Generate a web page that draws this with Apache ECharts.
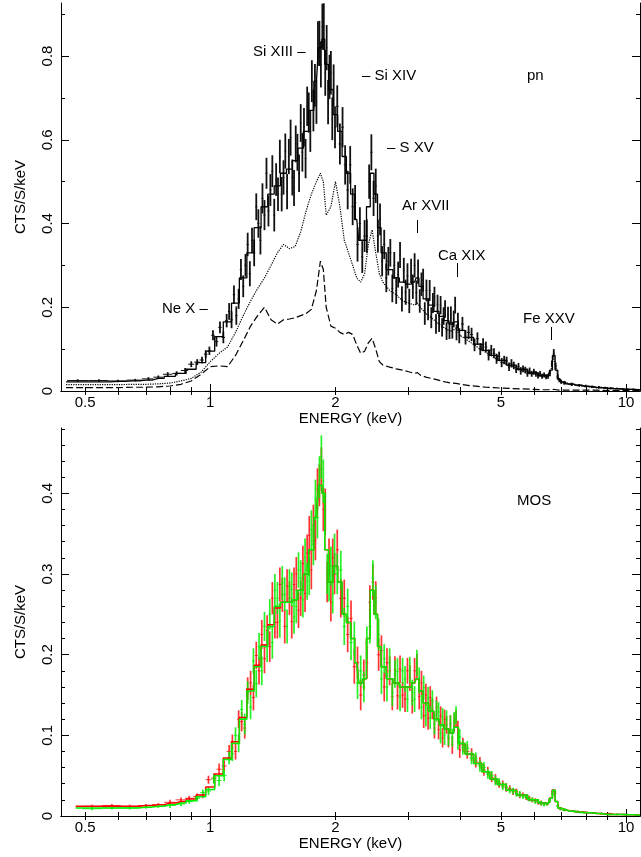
<!DOCTYPE html>
<html>
<head>
<meta charset="utf-8">
<script src="https://cdn.jsdelivr.net/npm/echarts@6/dist/echarts.min.js"></script>
<style>
  html, body { margin: 0; padding: 0; background: #fff; }
  #chart { width: 641px; height: 857px; }
</style>
</head>
<body>
<div id="chart"></div>
<script>
// ---- pn spectrum (top panel) ----
const pnE = [
  0.48, 0.54, 0.6, 0.66, 0.71, 0.75, 0.79, 0.83, 0.87, 0.9, 0.93, 0.955, 0.975, 0.995, 1.015, 1.035, 1.055, 1.075, 1.095,
  1.11, 1.125, 1.14, 1.155, 1.17, 1.185, 1.2, 1.215, 1.23, 1.245, 1.26, 1.275, 1.29, 1.305, 1.32, 1.335, 1.35, 1.365, 1.38, 1.395,
  1.41, 1.425, 1.44, 1.455, 1.47, 1.485, 1.5, 1.515, 1.53, 1.545, 1.56, 1.575, 1.59, 1.605, 1.62, 1.635, 1.65, 1.665, 1.68, 1.695,
  1.71, 1.725, 1.74, 1.755, 1.77, 1.785, 1.8, 1.815, 1.83, 1.845, 1.86, 1.875, 1.89, 1.905, 1.92, 1.935, 1.95, 1.965, 1.98, 1.995,
  2.02, 2.05, 2.08, 2.11, 2.14, 2.17, 2.2, 2.23, 2.26, 2.29, 2.32, 2.35, 2.38, 2.41, 2.44, 2.47, 2.5, 2.53, 2.56, 2.59,
  2.62, 2.65, 2.68, 2.71, 2.74, 2.77, 2.8, 2.83, 2.86, 2.89, 2.92, 2.95, 2.98, 3.01, 3.04, 3.07, 3.1, 3.13, 3.16, 3.19,
  3.22, 3.25, 3.28, 3.31, 3.34, 3.37, 3.4, 3.43, 3.46, 3.49, 3.52, 3.55, 3.58, 3.61, 3.64, 3.67, 3.7, 3.73, 3.76, 3.79,
  3.82, 3.85, 3.88, 3.91, 3.94, 3.97,
  4.04, 4.11, 4.18, 4.25, 4.32, 4.39, 4.46, 4.53, 4.6, 4.67, 4.74, 4.81, 4.88, 4.95, 5.02, 5.09, 5.16, 5.23, 5.3, 5.37,
  5.44, 5.51, 5.58, 5.65, 5.72, 5.79, 5.86, 5.93, 6.0, 6.07, 6.14, 6.21, 6.28, 6.35, 6.42, 6.49, 6.56, 6.63, 6.7, 6.77,
  6.84, 6.91, 6.98,
  7.1, 7.4, 7.7, 8.0, 8.3, 8.6, 8.9, 9.2, 9.5, 9.8, 10.1, 10.4
];
const pnY = [
  0.025, 0.025, 0.024, 0.026, 0.029, 0.033, 0.040, 0.042, 0.049, 0.064, 0.069, 0.074, 0.088, 0.096, 0.133, 0.118, 0.152, 0.128, 0.168,
  0.19, 0.17, 0.23, 0.18, 0.22, 0.29, 0.25, 0.30, 0.35, 0.28, 0.36, 0.33, 0.44, 0.40, 0.36, 0.46, 0.42, 0.52, 0.43, 0.48,
  0.525, 0.42, 0.505, 0.47, 0.56, 0.47, 0.51, 0.573, 0.476, 0.56, 0.605, 0.51, 0.485, 0.59, 0.57, 0.52, 0.64, 0.57, 0.63, 0.555,
  0.68, 0.665, 0.62, 0.74, 0.67, 0.73, 0.69, 0.83, 0.83, 0.78, 0.87, 0.87, 0.76, 0.82, 0.69, 0.75, 0.76, 0.65, 0.73, 0.63,
  0.68, 0.59, 0.63, 0.54, 0.48, 0.54, 0.44, 0.45, 0.35, 0.40, 0.32, 0.37, 0.37, 0.50, 0.57, 0.46, 0.49, 0.37, 0.41, 0.31,
  0.35, 0.27, 0.31, 0.33, 0.245, 0.30, 0.24, 0.278, 0.325, 0.22, 0.288, 0.236, 0.275, 0.215, 0.287, 0.249, 0.30, 0.235, 0.285, 0.215,
  0.255, 0.265, 0.185, 0.24, 0.195, 0.24, 0.175, 0.21, 0.225, 0.16, 0.207, 0.163, 0.205, 0.152, 0.179, 0.196, 0.143, 0.181, 0.144, 0.182,
  0.145, 0.172, 0.205, 0.14, 0.168, 0.132,
  0.16, 0.128, 0.14, 0.135, 0.11, 0.125, 0.10, 0.112, 0.105, 0.086, 0.098, 0.09, 0.077, 0.083, 0.068, 0.074, 0.072, 0.058, 0.066, 0.061,
  0.052, 0.058, 0.048, 0.053, 0.05, 0.042, 0.048, 0.041, 0.046, 0.041, 0.037, 0.041, 0.035, 0.038, 0.034, 0.035, 0.042, 0.065, 0.09, 0.06,
  0.034, 0.026, 0.022,
  0.019, 0.016, 0.014, 0.012, 0.010, 0.009, 0.008, 0.007, 0.006, 0.005, 0.004, 0.004
];
const pnErr = [
  0.003, 0.003, 0.003, 0.003, 0.004, 0.004, 0.005, 0.005, 0.006, 0.007, 0.007, 0.008, 0.009, 0.010, 0.012, 0.012, 0.014, 0.014, 0.016,
  0.020, 0.020, 0.022, 0.022, 0.024, 0.025, 0.026, 0.027, 0.028, 0.030, 0.030, 0.032, 0.032, 0.034, 0.034, 0.036, 0.036, 0.037, 0.037, 0.038,
  0.038, 0.039, 0.039, 0.040, 0.040, 0.041, 0.041, 0.042, 0.042, 0.042, 0.043, 0.043, 0.043, 0.044, 0.044, 0.045, 0.045, 0.046, 0.046, 0.047,
  0.047, 0.048, 0.049, 0.050, 0.050, 0.051, 0.052, 0.053, 0.054, 0.055, 0.055, 0.056, 0.055, 0.054, 0.053, 0.053, 0.052, 0.051, 0.050, 0.050,
  0.050, 0.049, 0.048, 0.047, 0.046, 0.045, 0.044, 0.042, 0.041, 0.039, 0.038, 0.038, 0.040, 0.041, 0.043, 0.042, 0.041, 0.039, 0.038, 0.036,
  0.035, 0.034, 0.034, 0.033, 0.033, 0.032, 0.032, 0.031, 0.031, 0.030, 0.030, 0.030, 0.030, 0.029, 0.029, 0.029, 0.029, 0.029, 0.029, 0.028,
  0.028, 0.027, 0.027, 0.026, 0.026, 0.025, 0.025, 0.024, 0.024, 0.023, 0.023, 0.022, 0.022, 0.022, 0.021, 0.021, 0.021, 0.020, 0.020, 0.020,
  0.020, 0.020, 0.020, 0.019, 0.019, 0.018,
  0.017, 0.017, 0.016, 0.016, 0.015, 0.015, 0.014, 0.014, 0.013, 0.013, 0.012, 0.012, 0.012, 0.011, 0.011, 0.010, 0.010, 0.010, 0.010, 0.009,
  0.009, 0.009, 0.009, 0.008, 0.008, 0.008, 0.008, 0.007, 0.007, 0.007, 0.007, 0.007, 0.006, 0.006, 0.006, 0.006, 0.007, 0.008, 0.010, 0.008,
  0.006, 0.005, 0.005,
  0.004, 0.004, 0.003, 0.003, 0.003, 0.003, 0.002, 0.002, 0.002, 0.002, 0.002, 0.002
];

// ---- model curves, shared energy grid ----
const modelE = [
  0.45, 0.5, 0.55, 0.6, 0.65, 0.7, 0.75, 0.8, 0.85, 0.9,
  0.95, 1.0, 1.05, 1.1, 1.15, 1.2, 1.25, 1.3, 1.35, 1.4,
  1.45, 1.5, 1.55, 1.6, 1.65, 1.7, 1.75, 1.8, 1.84, 1.87,
  1.9, 1.95, 2.0, 2.05, 2.1, 2.15, 2.2, 2.25, 2.3, 2.35,
  2.4, 2.45, 2.5, 2.55, 2.6, 2.7, 2.8, 2.9, 3.0, 3.1,
  3.15, 3.2, 3.3, 3.4, 3.5, 3.6, 3.7, 3.8, 3.9, 4.0,
  4.2, 4.4, 4.6, 4.8, 5.0, 5.3, 5.6, 6.0, 6.3, 6.5,
  6.6, 6.7, 6.8, 6.9, 7.0, 7.3, 7.6, 8.0, 8.5, 9.0,
  9.5, 10, 10.8
];
const pnModel = [
  0.022, 0.022, 0.022, 0.023, 0.024, 0.026, 0.030, 0.035, 0.042, 0.052,
  0.068, 0.095, 0.13, 0.165, 0.21, 0.27, 0.33, 0.39, 0.44, 0.47,
  0.49, 0.52, 0.53, 0.55, 0.58, 0.62, 0.67, 0.74, 0.82, 0.84,
  0.78, 0.72, 0.66, 0.62, 0.56, 0.52, 0.47, 0.41, 0.36, 0.36,
  0.44, 0.52, 0.47, 0.39, 0.33, 0.29, 0.27, 0.26, 0.255, 0.26,
  0.27, 0.25, 0.22, 0.205, 0.19, 0.178, 0.168, 0.16, 0.165, 0.145,
  0.128, 0.112, 0.097, 0.085, 0.073, 0.062, 0.052, 0.043, 0.037, 0.036,
  0.05, 0.085, 0.05, 0.028, 0.022, 0.017, 0.014, 0.011, 0.008, 0.006,
  0.005, 0.004, 0.003
];
const pnDotted = [
  0.015, 0.015, 0.015, 0.015, 0.016, 0.016, 0.017, 0.019, 0.024, 0.030,
  0.045, 0.070, 0.090, 0.105, 0.140, 0.180, 0.215, 0.245, 0.270, 0.300,
  0.330, 0.350, 0.340, 0.345, 0.380, 0.430, 0.470, 0.500, 0.520, 0.500,
  0.420, 0.440, 0.500, 0.440, 0.360, 0.330, 0.300, 0.270, 0.260, 0.280,
  0.350, 0.385, 0.330, 0.280, 0.260, 0.240, 0.230, 0.215, 0.210, 0.205,
  0.210, 0.200, 0.185, 0.175, 0.165, 0.155, 0.148, 0.142, 0.150, 0.132,
  0.118, 0.104, 0.092, 0.081, 0.070, 0.060, 0.050, 0.041, 0.036, 0.035,
  0.050, 0.082, 0.048, 0.027, 0.021, 0.016, 0.013, 0.010, 0.008, 0.006,
  0.005, 0.004, 0.003
];
const pnDashed = [
  0.008, 0.008, 0.008, 0.008, 0.009, 0.009, 0.010, 0.012, 0.016, 0.024,
  0.040, 0.058, 0.060, 0.058, 0.085, 0.120, 0.155, 0.180, 0.200, 0.170,
  0.160, 0.170, 0.172, 0.175, 0.180, 0.185, 0.195, 0.240, 0.310, 0.290,
  0.200, 0.155, 0.150, 0.140, 0.135, 0.140, 0.135, 0.110, 0.090, 0.095,
  0.115, 0.126, 0.100, 0.070, 0.062, 0.057, 0.053, 0.050, 0.046, 0.042,
  0.044, 0.038, 0.033, 0.030, 0.027, 0.024, 0.021, 0.019, 0.018, 0.016,
  0.013, 0.011, 0.009, 0.008, 0.007, 0.006, 0.005, 0.004, 0.003, 0.003,
  0.003, 0.004, 0.003, 0.002, 0.002, 0.002, 0.002, 0.002, 0.002, 0.001,
  0.001, 0.001, 0.001
];
const mos1Model = [
  null, 0.012, 0.012, 0.012, 0.012, 0.013, 0.014, 0.016, 0.018, 0.021,
  0.026, 0.036, 0.052, 0.072, 0.092, 0.122, 0.157, 0.187, 0.212, 0.237,
  0.258, 0.265, 0.265, 0.268, 0.28, 0.30, 0.33, 0.37, 0.41, 0.40,
  0.33, 0.29, 0.31, 0.29, 0.25, 0.24, 0.22, 0.19, 0.165, 0.17,
  0.22, 0.28, 0.25, 0.21, 0.185, 0.17, 0.165, 0.16, 0.16, 0.165,
  0.17, 0.155, 0.14, 0.13, 0.12, 0.113, 0.108, 0.103, 0.11, 0.09,
  0.077, 0.065, 0.055, 0.046, 0.039, 0.032, 0.026, 0.02, 0.016, 0.015,
  0.022, 0.032, 0.018, 0.01, 0.008, 0.006, 0.005, 0.004, 0.003, 0.002,
  0.002, 0.0015, 0.001
];
const mos2Model = [
  null, 0.010, 0.010, 0.010, 0.010, 0.011, 0.012, 0.014, 0.016, 0.019,
  0.024, 0.033, 0.050, 0.070, 0.090, 0.120, 0.155, 0.185, 0.210, 0.235,
  0.260, 0.265, 0.265, 0.268, 0.28, 0.30, 0.33, 0.37, 0.41, 0.40,
  0.33, 0.29, 0.31, 0.29, 0.25, 0.24, 0.22, 0.19, 0.165, 0.17,
  0.22, 0.28, 0.25, 0.21, 0.185, 0.17, 0.165, 0.16, 0.16, 0.165,
  0.17, 0.155, 0.14, 0.13, 0.12, 0.113, 0.108, 0.103, 0.11, 0.09,
  0.077, 0.065, 0.055, 0.046, 0.039, 0.032, 0.026, 0.02, 0.016, 0.015,
  0.022, 0.032, 0.018, 0.01, 0.008, 0.006, 0.005, 0.004, 0.003, 0.002,
  0.002, 0.0015, 0.001
];

// ---- MOS spectra (bottom panel) ----
const mosE = [
  0.52, 0.58, 0.64, 0.7, 0.75, 0.8, 0.85, 0.89, 0.93, 0.96, 0.99, 1.02, 1.05, 1.08, 1.11,
  1.13, 1.15, 1.17, 1.19, 1.21, 1.23, 1.25, 1.27, 1.29, 1.31, 1.33, 1.35, 1.37, 1.39, 1.41, 1.43, 1.45, 1.47, 1.49, 1.51,
  1.53, 1.55, 1.57, 1.59, 1.61, 1.63, 1.65, 1.67, 1.69, 1.71, 1.73, 1.75, 1.77, 1.79, 1.81, 1.83, 1.85, 1.87, 1.89, 1.91,
  1.93, 1.95, 1.97, 1.99,
  2.02, 2.06, 2.1, 2.14, 2.18, 2.22, 2.26, 2.3, 2.34, 2.38, 2.42, 2.46, 2.5, 2.54, 2.58, 2.62, 2.66, 2.7, 2.74, 2.78,
  2.82, 2.86, 2.9, 2.94, 2.98, 3.02, 3.06, 3.1, 3.14, 3.18, 3.22, 3.26, 3.3, 3.34, 3.38, 3.42, 3.46, 3.5, 3.54, 3.58,
  3.62, 3.66, 3.7, 3.74, 3.78, 3.82, 3.86, 3.9, 3.94, 3.98,
  4.05, 4.15, 4.25, 4.35, 4.45, 4.55, 4.65, 4.75, 4.85, 4.95, 5.05, 5.15, 5.25, 5.35, 5.45,
  5.55, 5.65, 5.75, 5.85, 5.95, 6.05, 6.15, 6.25, 6.35, 6.45, 6.55, 6.65, 6.75, 6.85, 6.95,
  7.1, 7.5, 7.9, 8.3, 8.7, 9.1, 9.5, 9.9
];
const mos1Y = [
  0.012, 0.013, 0.012, 0.013, 0.014, 0.017, 0.020, 0.022, 0.024, 0.026, 0.045, 0.047, 0.058, 0.062, 0.080,
  0.092, 0.080, 0.120, 0.117, 0.109, 0.158, 0.165, 0.147, 0.199, 0.180, 0.225, 0.195, 0.230, 0.210, 0.270, 0.240, 0.240, 0.287, 0.274, 0.235,
  0.285, 0.270, 0.241, 0.287, 0.300, 0.255, 0.270, 0.313, 0.276, 0.326, 0.348, 0.305, 0.361, 0.342, 0.405, 0.410, 0.430, 0.380, 0.380, 0.290,
  0.320, 0.265, 0.320, 0.300,
  0.330, 0.270, 0.270, 0.225, 0.245, 0.185, 0.190, 0.150, 0.175, 0.190, 0.265, 0.290, 0.270, 0.200, 0.205, 0.160, 0.190, 0.180, 0.148, 0.181,
  0.149, 0.182, 0.150, 0.145, 0.180, 0.171, 0.143, 0.180, 0.185, 0.148, 0.165, 0.124, 0.150, 0.121, 0.147, 0.133, 0.109, 0.135, 0.107, 0.124,
  0.097, 0.120, 0.113, 0.096, 0.114, 0.088, 0.116, 0.120, 0.108, 0.082,
  0.088, 0.08, 0.076, 0.068, 0.066, 0.057, 0.055, 0.048, 0.046, 0.04, 0.039, 0.035, 0.034, 0.03, 0.03,
  0.026, 0.026, 0.023, 0.022, 0.02, 0.019, 0.017, 0.016, 0.015, 0.015, 0.02, 0.03, 0.028, 0.013, 0.009,
  0.007, 0.006, 0.005, 0.004, 0.003, 0.003, 0.002, 0.002
];
const mos2Y = [
  0.009, 0.010, 0.010, 0.011, 0.012, 0.013, 0.015, 0.018, 0.022, 0.029, 0.031, 0.046, 0.044, 0.050, 0.072,
  0.077, 0.100, 0.090, 0.132, 0.114, 0.153, 0.135, 0.192, 0.164, 0.210, 0.180, 0.235, 0.210, 0.250, 0.215, 0.280, 0.270, 0.242, 0.289, 0.275,
  0.235, 0.285, 0.281, 0.247, 0.260, 0.305, 0.295, 0.268, 0.321, 0.291, 0.298, 0.355, 0.336, 0.392, 0.370, 0.420, 0.445, 0.415, 0.375, 0.300,
  0.290, 0.310, 0.275, 0.325,
  0.300, 0.305, 0.235, 0.260, 0.215, 0.220, 0.165, 0.180, 0.160, 0.215, 0.235, 0.295, 0.265, 0.225, 0.170, 0.195, 0.160, 0.190, 0.153, 0.176,
  0.179, 0.147, 0.180, 0.170, 0.145, 0.181, 0.153, 0.145, 0.190, 0.168, 0.135, 0.159, 0.125, 0.146, 0.122, 0.143, 0.114, 0.130, 0.129, 0.102,
  0.122, 0.100, 0.120, 0.098, 0.114, 0.097, 0.118, 0.125, 0.092, 0.098,
  0.085, 0.084, 0.072, 0.071, 0.062, 0.06, 0.052, 0.05, 0.044, 0.042, 0.037, 0.036, 0.032, 0.031, 0.028,
  0.027, 0.024, 0.024, 0.021, 0.02, 0.018, 0.018, 0.016, 0.014, 0.015, 0.019, 0.027, 0.03, 0.012, 0.009,
  0.007, 0.006, 0.004, 0.004, 0.003, 0.002, 0.002, 0.002
];
const mosErr = [
  0.002, 0.002, 0.002, 0.002, 0.002, 0.003, 0.003, 0.003, 0.004, 0.004, 0.005, 0.006, 0.007, 0.007, 0.008,
  0.009, 0.010, 0.011, 0.012, 0.013, 0.014, 0.015, 0.016, 0.017, 0.017, 0.018, 0.018, 0.019, 0.019, 0.020, 0.020, 0.020, 0.021, 0.021, 0.021,
  0.021, 0.021, 0.021, 0.021, 0.021, 0.022, 0.022, 0.022, 0.023, 0.023, 0.024, 0.024, 0.025, 0.025, 0.026, 0.026, 0.027, 0.027, 0.026, 0.025,
  0.024, 0.024, 0.024, 0.025,
  0.025, 0.024, 0.023, 0.022, 0.022, 0.021, 0.020, 0.019, 0.019, 0.020, 0.021, 0.022, 0.021, 0.020, 0.019, 0.018, 0.018, 0.018, 0.017, 0.017,
  0.017, 0.017, 0.016, 0.016, 0.016, 0.016, 0.016, 0.016, 0.016, 0.016, 0.015, 0.015, 0.014, 0.014, 0.014, 0.013, 0.013, 0.013, 0.012, 0.012,
  0.012, 0.012, 0.011, 0.011, 0.011, 0.011, 0.011, 0.011, 0.010, 0.010,
  0.009, 0.009, 0.008, 0.008, 0.007, 0.007, 0.006, 0.006, 0.006, 0.005, 0.005, 0.005, 0.004, 0.004, 0.004,
  0.004, 0.003, 0.003, 0.003, 0.003, 0.003, 0.003, 0.003, 0.002, 0.002, 0.003, 0.003, 0.003, 0.002, 0.002,
  0.001, 0.001, 0.001, 0.001, 0.001, 0.001, 0.001, 0.001
];

// tick values
const xLabelVals = [0.5, 1, 2, 5, 10];
const xMajorTicks = [1, 10];
const xMinorTicks = [0.5, 0.6, 0.7, 0.8, 0.9, 2, 3, 4, 5, 6, 7, 8, 9];
const pnYLabels = [0, 0.2, 0.4, 0.6, 0.8];
const pnYMinor = [0.1, 0.3, 0.5, 0.7, 0.9];
const mosYLabels = [0, 0.1, 0.2, 0.3, 0.4];
const mosYMinor = [0.02, 0.04, 0.06, 0.08, 0.12, 0.14, 0.16, 0.18, 0.22, 0.24, 0.26, 0.28,
  0.32, 0.34, 0.36, 0.38, 0.42, 0.44, 0.46, 0.48];

const FONT = '"Liberation Sans", Arial, Helvetica, sans-serif';
const txt = {color: '#000', fontSize: 15, fontFamily: FONT};

// bin edges from neighbouring channel energies
function bins(E, Y, D) {
  return E.map((e, i) => {
    const hi = i < E.length - 1 ? Math.sqrt(e * E[i + 1]) : e * e / Math.sqrt(E[i - 1] * e);
    const lo = i > 0 ? Math.sqrt(E[i - 1] * e) : e * e / hi;
    return [e, Y[i], D[i], lo, hi];
  });
}

function errBars(color, w) {
  return function (params, api) {
    const e = api.value(0), y = api.value(1), d = api.value(2);
    const a = api.coord([e, y + d]), b = api.coord([e, Math.max(y - d, 0)]);
    const l = api.coord([api.value(3), y]), r = api.coord([api.value(4), y]);
    return {
      type: 'group', children: [
        {type: 'line', shape: {x1: a[0], y1: a[1], x2: b[0], y2: b[1]}, style: {stroke: color, lineWidth: w}},
        {type: 'line', shape: {x1: l[0], y1: l[1], x2: r[0], y2: r[1]}, style: {stroke: color, lineWidth: 1}}
      ]
    };
  };
}

function xAxes(grid) {
  const base = {type: 'log', gridIndex: grid, min: 0.4375, max: 10.8, splitLine: {show: false}};
  const line = {show: true, lineStyle: {color: '#000', width: 1}};
  const major = {show: true, inside: true, length: 7, customValues: xMajorTicks, lineStyle: {color: '#000'}};
  const minor = {show: true, inside: true, length: 4, customValues: xMinorTicks, lineStyle: {color: '#000'}};
  return [
    Object.assign({}, base, {
      position: 'bottom', axisLine: line, axisTick: major,
      axisLabel: Object.assign({customValues: xLabelVals, margin: 4,
        formatter: (v) => String(+(+v).toPrecision(3))}, txt),
      name: 'ENERGY (keV)', nameLocation: 'middle', nameGap: 18, nameTextStyle: txt
    }),
    Object.assign({}, base, {position: 'bottom', axisLine: {show: false}, axisTick: minor, axisLabel: {show: false}}),
    Object.assign({}, base, {position: 'top', axisLine: line, axisTick: major, axisLabel: {show: false}}),
    Object.assign({}, base, {position: 'top', axisLine: {show: false}, axisTick: minor, axisLabel: {show: false}})
  ];
}

function yAxes(grid, ymax, labels, minorVals) {
  const base = {type: 'value', gridIndex: grid, min: 0, max: ymax, splitLine: {show: false}};
  const line = {show: true, lineStyle: {color: '#000', width: 1}};
  const major = {show: true, inside: true, length: 8, customValues: labels, lineStyle: {color: '#000'}};
  const minor = {show: true, inside: true, length: 4, customValues: minorVals, lineStyle: {color: '#000'}};
  return [
    Object.assign({}, base, {
      position: 'left', axisLine: line, axisTick: major,
      axisLabel: Object.assign({customValues: labels, rotate: 90, margin: 6}, txt),
      name: 'CTS/S/keV', nameLocation: 'middle', nameGap: 33, nameTextStyle: txt
    }),
    Object.assign({}, base, {position: 'left', axisLine: {show: false}, axisTick: minor, axisLabel: {show: false}}),
    Object.assign({}, base, {position: 'right', axisLine: line, axisTick: major, axisLabel: {show: false}}),
    Object.assign({}, base, {position: 'right', axisLine: {show: false}, axisTick: minor, axisLabel: {show: false}})
  ];
}

const curve = (arr) => modelE.map((e, i) => [e, arr[i]]);

function note(text, x, y) {
  return {type: 'text', x: x, y: y, style: {text: text, fill: '#000', font: '15px ' + FONT, verticalAlign: 'middle'}};
}
function mark(x, y1, y2) {
  return {type: 'line', shape: {x1: x, y1: y1, x2: x, y2: y2}, style: {stroke: '#000', lineWidth: 1}};
}

const chart = echarts.init(document.getElementById('chart'));
chart.setOption({
  animation: false,
  backgroundColor: '#fff',
  grid: [
    {left: 61, top: 3, width: 579, height: 388},
    {left: 61, top: 428, width: 579, height: 388}
  ],
  xAxis: xAxes(0).concat(xAxes(1)),
  yAxis: yAxes(0, 0.9266, pnYLabels, pnYMinor).concat(yAxes(1, 0.481, mosYLabels, mosYMinor)),
  series: [
    {type: 'custom', xAxisIndex: 0, yAxisIndex: 0, clip: true, renderItem: errBars('#111', 1.8),
      encode: {x: 0, y: 1}, data: bins(pnE, pnY, pnErr)},
    {type: 'line', xAxisIndex: 0, yAxisIndex: 0, step: 'middle', showSymbol: false, data: curve(pnModel),
      lineStyle: {color: '#000', width: 1.3}},
    {type: 'line', xAxisIndex: 0, yAxisIndex: 0, showSymbol: false, data: curve(pnDotted),
      lineStyle: {color: '#000', width: 1.2, type: 'dotted'}},
    {type: 'line', xAxisIndex: 0, yAxisIndex: 0, showSymbol: false, data: curve(pnDashed),
      lineStyle: {color: '#000', width: 1.2, type: [7, 3]}},

    {type: 'custom', xAxisIndex: 4, yAxisIndex: 4, clip: true, renderItem: errBars('rgba(255,0,0,0.8)', 1.7),
      encode: {x: 0, y: 1}, data: bins(mosE, mos1Y, mosErr)},
    {type: 'custom', xAxisIndex: 4, yAxisIndex: 4, clip: true, renderItem: errBars('rgba(0,240,0,0.85)', 1.7),
      encode: {x: 0, y: 1}, data: bins(mosE, mos2Y, mosErr)},
    {type: 'line', xAxisIndex: 4, yAxisIndex: 4, step: 'middle', showSymbol: false, data: curve(mos1Model),
      lineStyle: {color: '#ff0000', width: 1.5}},
    {type: 'line', xAxisIndex: 4, yAxisIndex: 4, step: 'middle', showSymbol: false, data: curve(mos2Model),
      lineStyle: {color: '#00ee00', width: 1.5}}
  ],
  graphic: [
    note('Si XIII –', 253, 52),
    note('– Si XIV', 362, 76),
    note('pn', 527, 76),
    note('– S XV', 387, 148),
    note('Ar XVII', 402, 206),
    mark(417.5, 220, 233),
    note('Ca XIX', 438, 256),
    mark(457.5, 263, 277),
    note('Fe XXV', 523, 319),
    mark(551.5, 327, 340),
    note('Ne X –', 162, 309),
    note('MOS', 517, 501)
  ]
});
</script>
</body>
</html>
